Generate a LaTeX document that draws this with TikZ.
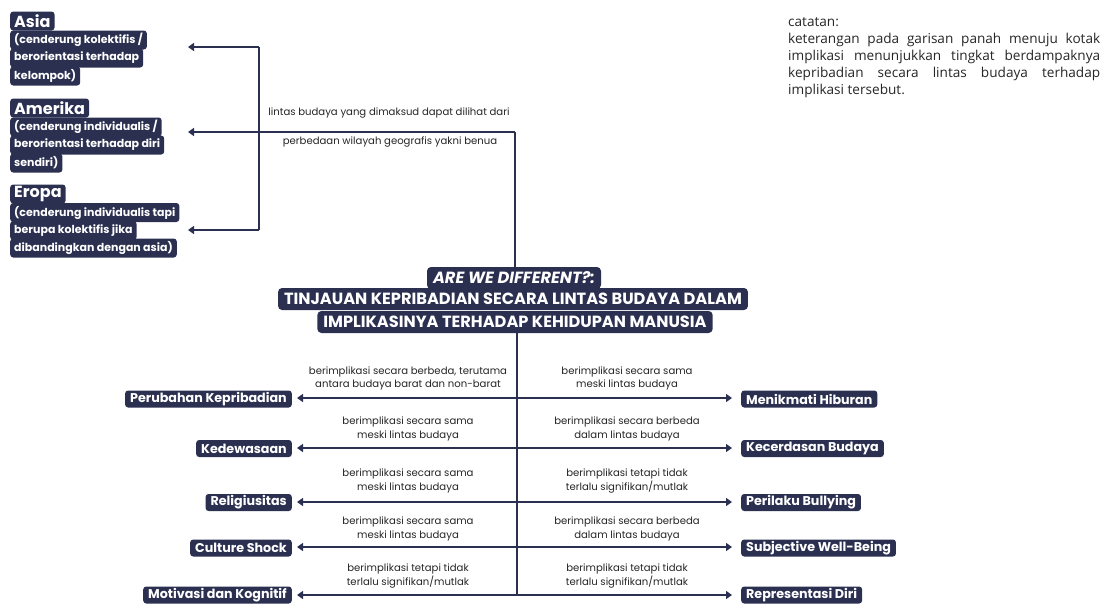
\documentclass[tikz,border=0pt]{standalone}
\usepackage{fontspec}
\setmainfont{Poppins}
\newfontfamily\notefont{Open Sans}
\usetikzlibrary{arrows.meta}
\definecolor{navy}{HTML}{2B3051}
\tikzset{
 hl/.style={fill=navy, text=white, rounded corners=3, inner xsep=4, inner ysep=0, minimum height=19, anchor=west, font=\fontsize{11}{12}\selectfont\bfseries},
 hlh/.style={hl, font=\fontsize{16}{17}\selectfont\bfseries},
 ttl/.style={fill=navy, text=white, rounded corners=4, inner xsep=6, inner ysep=0, minimum height=22, font=\fontsize{16.2}{18}\selectfont\bfseries},
 boxL/.style={fill=navy, text=white, rounded corners=3, inner xsep=5, inner ysep=0, minimum height=17, anchor=east, font=\fontsize{12.7}{14}\selectfont\bfseries},
 boxR/.style={boxL, anchor=west},
 lbl/.style={font=\fontsize{10.1}{13.5}\selectfont, align=center, text=black!85, inner sep=0},
 con/.style={draw=navy, line width=2.2},
 arr/.style={con, -{Triangle[width=8,length=6]}},
}
\begin{document}
\begin{tikzpicture}[x=1pt,y=-1pt]
\useasboundingbox (0,0) rectangle (1114,603);

% ---------- top-left groups ----------
\node[hlh] (asiaH) at (10,21) {Asia};
\node[hl] (asia1) at (10,40) {(cenderung kolektifis /};
\node[hl] (asia2) at (10,58) {berorientasi terhadap};
\node[hl] (asia3) at (10,76) {kelompok)};

\node[hlh] (ameH) at (10,108) {Amerika};
\node[hl] (ame1) at (10,127) {(cenderung individualis /};
\node[hl] (ame2) at (10,145) {berorientasi terhadap diri};
\node[hl] (ame3) at (10,163) {sendiri)};

\node[hlh] (eroH) at (10,194) {Eropa};
\node[hl] (ero1) at (10,212.5) {(cenderung individualis tapi};
\node[hl] (ero2) at (10,230.5) {berupa kolektifis jika};
\node[hl] (ero3) at (10,248) {dibandingkan dengan asia)};

% ---------- title ----------
\node[ttl, font=\fontsize{16.2}{18}\selectfont\bfseries\itshape] (t1) at (514,278) {ARE WE DIFFERENT?:};
\node[ttl] (t2) at (513,299) {TINJAUAN KEPRIBADIAN SECARA LINTAS BUDAYA DALAM};
\node[ttl] (t3) at (515,322) {IMPLIKASINYA TERHADAP KEHIDUPAN MANUSIA};

% ---------- top connectors ----------
\coordinate (topJ) at (515,132);
\coordinate (leftT) at (259,47);
\coordinate (leftB) at (259,230);
\coordinate (tipA) at (188,47);
\coordinate (tipM) at (188,132);
\coordinate (tipE) at (188,230);
\draw[con] (t1.north -| topJ) -- (topJ);
\draw[arr] (topJ) -- (tipM);
\draw[arr] (leftT) -- (tipA);
\draw[arr] (leftB) -- (tipE);
\draw[con] (leftT) -- (leftB);

\node[lbl] (lt1) at (389,113) {lintas budaya yang dimaksud dapat dilihat dari};
\node[lbl] (lt2) at (390,142) {perbedaan wilayah geografis yakni benua};

% ---------- note ----------
\node[anchor=north west, inner sep=0, align=left, text=black!85, font=\notefont\fontsize{13.6}{17}\selectfont] (note) at (788,17.5)
 {catatan:\\
  \makebox[312pt][s]{keterangan pada garisan panah menuju kotak}\\
  \makebox[312pt][s]{implikasi menunjukkan tingkat berdampaknya}\\
  \makebox[312pt][s]{kepribadian secara lintas budaya terhadap}\\
  implikasi tersebut.};

% ---------- trunk ----------
\coordinate (trBot) at (517,595);
\draw[con] (t3.south -| trBot) -- (trBot);

% rows
\foreach \n/\y in {r1/398, r2/448, r3/502, r4/547, r5/595}{
  \coordinate (\n) at (517,\y);
}
\node[boxL] (L1) at (292,399) {Perubahan Kepribadian};
\node[boxL] (L2) at (292,448.5) {Kedewasaan};
\node[boxL] (L3) at (292,502.5) {Religiusitas};
\node[boxL] (L4) at (292,548) {Culture Shock};
\node[boxL] (L5) at (292,595) {Motivasi dan Kognitif};

\node[boxR] (R1) at (741,399) {Menikmati Hiburan};
\node[boxR] (R2) at (741,448.5) {Kecerdasan Budaya};
\node[boxR] (R3) at (741,502.5) {Perilaku Bullying};
\node[boxR] (R4) at (741,548) {Subjective Well-Being};
\node[boxR] (R5) at (741,595) {Representasi Diri};

\foreach \i in {1,...,5}{
  \draw[arr, shorten >=5] (r\i) -- (r\i -| L\i.east);
  \draw[arr, shorten >=9] (r\i) -- (r\i -| R\i.west);
}

% labels
\node[lbl] (la1) at (408,378.5) {berimplikasi secara berbeda, terutama\\antara budaya barat dan non-barat};
\node[lbl] (la2) at (408,429) {berimplikasi secara sama\\meski lintas budaya};
\node[lbl] (la3) at (408,481) {berimplikasi secara sama\\meski lintas budaya};
\node[lbl] (la4) at (408,529) {berimplikasi secara sama\\meski lintas budaya};
\node[lbl] (la5) at (408,576) {berimplikasi tetapi tidak\\terlalu signifikan/mutlak};

\node[lbl] (ra1) at (627,378.5) {berimplikasi secara sama\\meski lintas budaya};
\node[lbl] (ra2) at (627,429) {berimplikasi secara berbeda\\dalam lintas budaya};
\node[lbl] (ra3) at (627,481) {berimplikasi tetapi tidak\\terlalu signifikan/mutlak};
\node[lbl] (ra4) at (627,529) {berimplikasi secara berbeda\\dalam lintas budaya};
\node[lbl] (ra5) at (627,576) {berimplikasi tetapi tidak\\terlalu signifikan/mutlak};
\end{tikzpicture}
\end{document}
